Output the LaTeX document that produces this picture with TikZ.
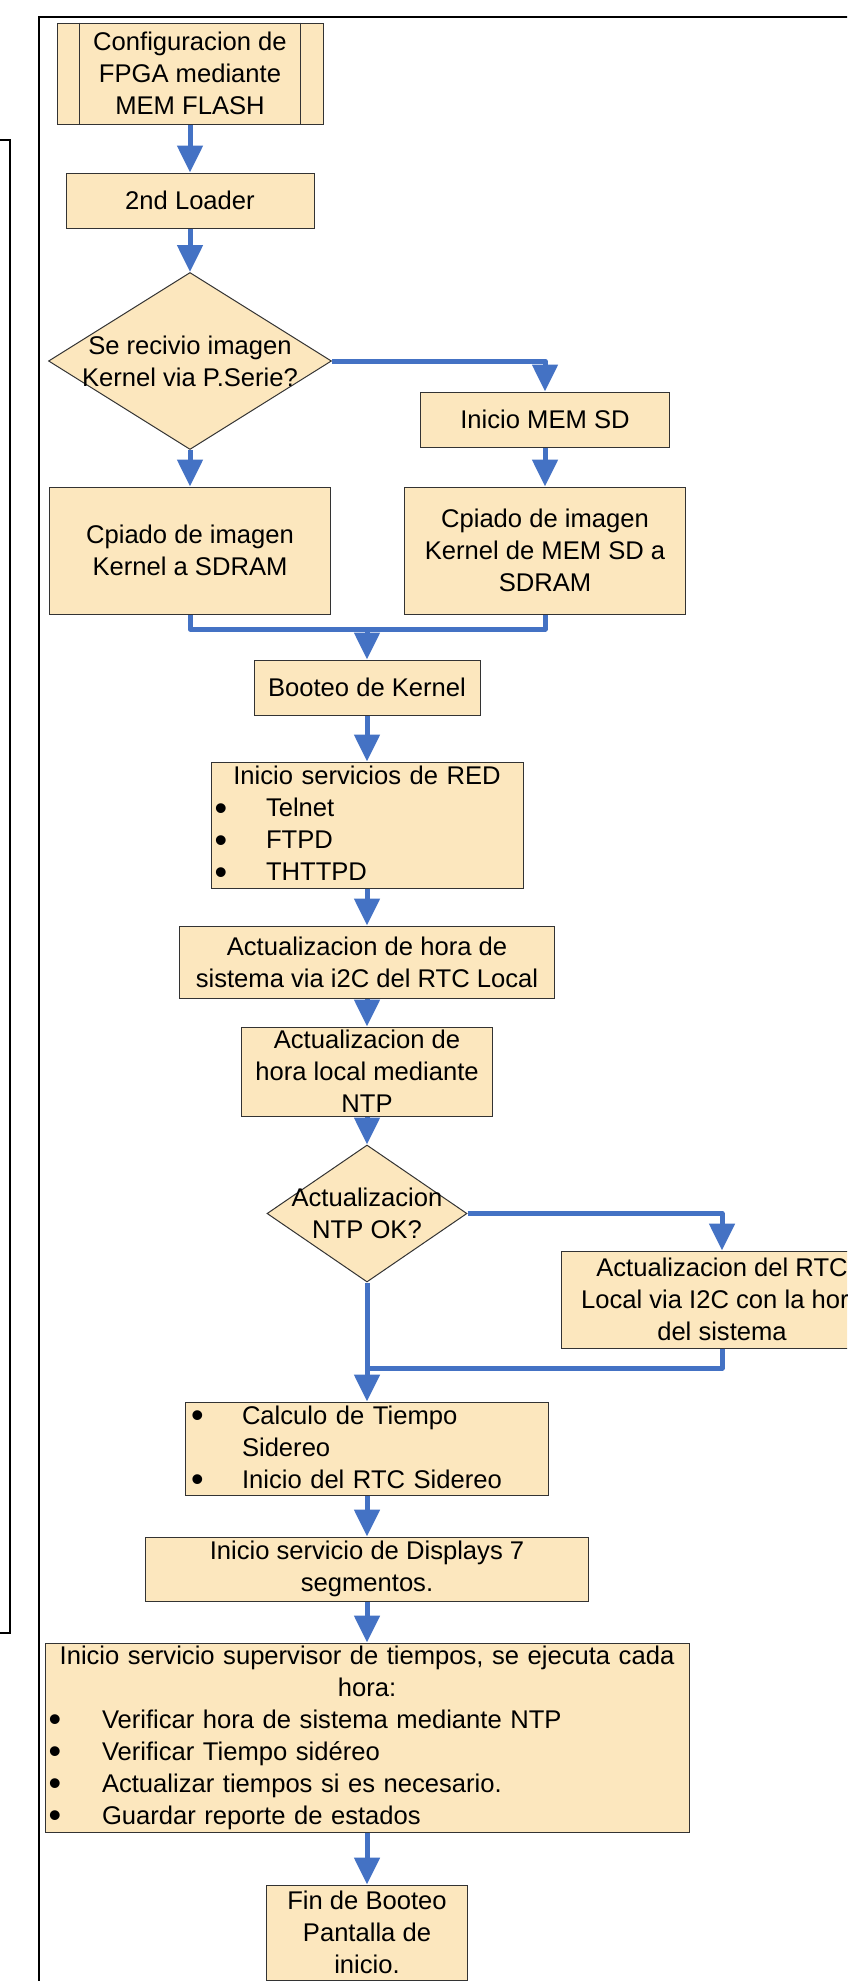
\documentclass[tikz,border=0pt]{standalone}
\usepackage{fontspec}
\setmainfont{Liberation Sans}
\usetikzlibrary{shapes.geometric,arrows.meta}
\definecolor{cajafondo}{RGB}{252,231,190}
\definecolor{flechaazul}{RGB}{68,114,196}
\newcommand{\vineta}[2]{\hspace*{#1}\makebox[#2][l]{\raisebox{-3.5pt}{\scalebox{1.4}{\textbullet}}}}

\begin{document}
\begin{tikzpicture}[x=1pt, y=-1pt,
		caja/.style={draw=black!80, fill=cajafondo, line width=1pt, inner sep=0pt, align=center, font=\fontsize{25.6pt}{32pt}\selectfont},
		decision/.style={diamond, draw=black!80, fill=cajafondo, line width=1pt, inner sep=0pt},
		texto/.style={inner sep=0pt, align=center, font=\fontsize{25.6pt}{32pt}\selectfont},
		flecha/.style={draw=flechaazul, line width=5pt, line join=round, -{Triangle[length=27pt,width=25pt]}},
		union/.style={draw=flechaazul, line width=5pt, line join=round},
		marco/.style={draw=black, line width=2pt}]
			\path[use as bounding box, clip] (0,0) rectangle (847,1981);
			% marcos
			\draw[marco] (39,2000) -- (39,17) -- (900,17);
			\draw[marco] (-10,140) -- (10,140) -- (10,1633) -- (-10,1633);
			% cajas
			\node[caja, minimum width=266pt, minimum height=101pt] (conf) at (190,73.5) {Configuracion de\\FPGA mediante\\MEM FLASH};
			\draw[draw=black!80, line width=1pt] ([xshift=23pt]conf.north west) -- ([xshift=23pt]conf.south west);
			\draw[draw=black!80, line width=1pt] ([xshift=-23pt]conf.north east) -- ([xshift=-23pt]conf.south east);
			\node[caja, minimum width=248pt, minimum height=55pt] (loader) at (190,200.5) {2nd Loader};
			\node[decision, minimum width=283pt, minimum height=177pt] (serie) at (190,361) {};
			\node[texto] (serietxt) at (serie.center) {Se recivio imagen\\Kernel via P.Serie?};
			\node[caja, minimum width=249pt, minimum height=55pt] (memsd) at (545,419.5) {Inicio MEM SD};
			\node[caja, minimum width=281pt, minimum height=127pt] (copia) at (190,550.5) {Cpiado de imagen\\Kernel a SDRAM};
			\node[caja, minimum width=281pt, minimum height=127pt] (copiasd) at (545,550.5) {Cpiado de imagen\\Kernel de MEM SD a\\SDRAM};
			\node[caja, minimum width=226pt, minimum height=55pt] (boot) at (367,687.5) {Booteo de Kernel};
			\node[caja, text width=312pt, align=left, minimum height=126pt] (red) at (367,825) {\makebox[312pt]{Inicio servicios de RED}\\\vineta{3.7pt}{51.3pt}Telnet\\\vineta{3.7pt}{51.3pt}FTPD\\\vineta{3.7pt}{51.3pt}THTTPD};
			\node[caja, minimum width=375pt, minimum height=72pt] (horasis) at (367,962) {Actualizacion de hora de\\sistema via i2C del RTC Local};
			\node[caja, minimum width=251pt, minimum height=89pt] (ntp) at (367,1071.5) {Actualizacion de\\hora local mediante\\NTP};
			\node[decision, minimum width=200pt, minimum height=137pt] (ntpok) at (367,1213.5) {};
			\node[texto] (ntpoktxt) at (ntpok.center) {Actualizacion\\NTP OK?};
			\node[caja, minimum width=322pt, minimum height=97pt] (rtc) at (722,1299.5) {Actualizacion del RTC\\Local via I2C con la hora\\del sistema};
			\node[caja, text width=363pt, align=left, minimum height=93pt] (sidereo) at (367,1448.5) {\vineta{5.7pt}{50.8pt}Calculo de Tiempo\\\hspace*{56.5pt}Sidereo\\\vineta{5.7pt}{50.8pt}Inicio del RTC Sidereo};
			\node[caja, minimum width=443pt, minimum height=64pt] (displays) at (367,1569) {Inicio servicio de Displays 7\\segmentos.};
			\node[caja, text width=644pt, align=left, minimum height=189pt] (superv) at (367,1737.5) {\makebox[644pt]{Inicio servicio supervisor de tiempos, se ejecuta cada}\\\makebox[644pt]{hora:}\\\vineta{3.7pt}{53.3pt}Verificar hora de sistema mediante NTP\\\vineta{3.7pt}{53.3pt}Verificar Tiempo sidéreo\\\vineta{3.7pt}{53.3pt}Actualizar tiempos si es necesario.\\\vineta{3.7pt}{53.3pt}Guardar reporte de estados};
			\node[caja, minimum width=201pt, minimum height=95pt] (fin) at (367,1932.5) {Fin de Booteo\\Pantalla de\\inicio.};
			% uniones
			\coordinate (junta1) at (367,629);
			\coordinate (junta2) at (367,1368);
			% flechas
			\draw[flecha] (conf) -- (loader);
			\draw[flecha] (loader) -- (serie);
			\draw[flecha] (serie.east) -| (memsd.north);
			\draw[flecha] (serie.south) -- (copia.north);
			\draw[flecha] (memsd) -- (copiasd);
			\draw[union] (copia.south) |- (junta1) -| (copiasd.south);
			\draw[flecha] (junta1) -- (boot.north);
			\draw[flecha] (boot) -- (red);
			\draw[flecha] (red) -- (horasis);
			\draw[flecha] (horasis) -- (ntp);
			\draw[flecha] (ntp) -- (ntpok);
			\draw[flecha] (ntpok.east) -| (rtc.north);
			\draw[union] (rtc.south) |- (junta2);
			\draw[flecha] (ntpok.south) -- (sidereo.north);
			\draw[flecha] (sidereo) -- (displays);
			\draw[flecha] (displays) -- (superv);
			\draw[flecha] (superv) -- (fin);
		\end{tikzpicture}
\end{document}
